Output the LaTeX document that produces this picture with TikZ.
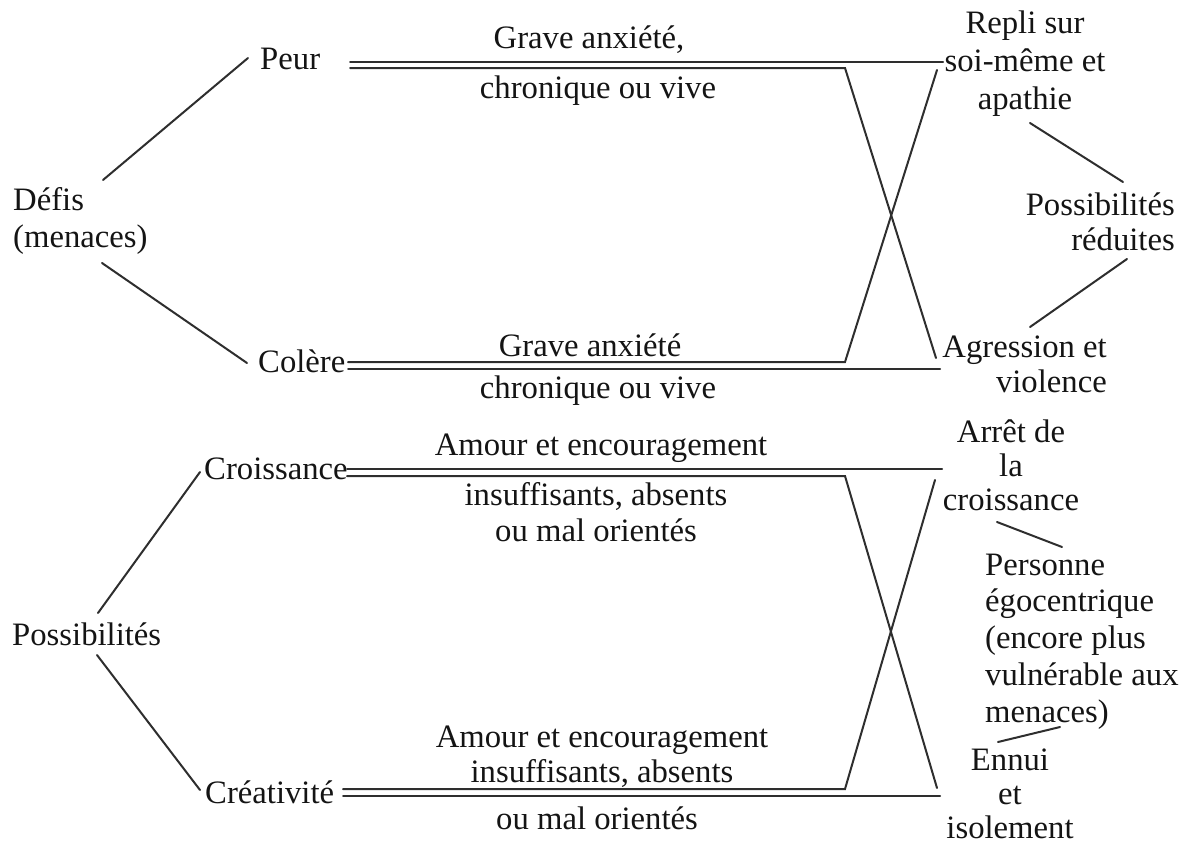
\documentclass[tikz,border=0pt]{standalone}
\usepackage{fontspec}
\setmainfont{Liberation Serif}
\newcommand{\fs}[1]{\fontsize{32.7}{#1}\selectfont}
\begin{document}
\begin{tikzpicture}[x=1pt,y=-1pt,
  lbl/.style={inner sep=0pt, font=\fs{36}, text=black!92},
  ln/.style={line width=2pt, draw=black!82, line cap=round, line join=miter}]
\useasboundingbox (0,0) rectangle (1183,844);
% ---------- left labels (anchor = baseline of last line)
\node[lbl, anchor=base west, align=left, font=\fs{37}] (defis) at (13,247) {Défis\\(menaces)};
\node[lbl, anchor=base west] (peur) at (260,69) {Peur};
\node[lbl, anchor=base west] (colere) at (258,372) {Colère};
\node[lbl, anchor=base west] (possib) at (12,645) {Possibilités};
\node[lbl, anchor=base west] (croiss) at (204,479) {Croissance};
\node[lbl, anchor=base west] (creat) at (205,803) {Créativité};
% ---------- middle labels
\node[lbl, anchor=base] (grave1) at (589,48) {Grave anxiété,};
\node[lbl, anchor=base] (chron1) at (598,98) {chronique ou vive};
\node[lbl, anchor=base] (grave2) at (590,356) {Grave anxiété};
\node[lbl, anchor=base] (chron2) at (598,398) {chronique ou vive};
\node[lbl, anchor=base] (amour1) at (601,455) {Amour et encouragement};
\node[lbl, anchor=base, align=center] (insuf1) at (596,541) {insuffisants, absents\\ou mal orientés};
\node[lbl, anchor=base, align=center, font=\fs{35}] (amour2) at (602,782) {Amour et encouragement\\insuffisants, absents};
\node[lbl, anchor=base] (mal2) at (597,829) {ou mal orientés};
% ---------- right labels
\node[lbl, anchor=base, align=center, font=\fs{38}] (repli) at (1025,109) {Repli sur\\soi-même et\\apathie};
\node[lbl, anchor=base east, align=right, font=\fs{35}] (reduites) at (1175,250) {Possibilités\\réduites};
\node[lbl, anchor=base east, align=right, font=\fs{35}] (aggr) at (1107,392) {Agression et\\violence};
\node[lbl, anchor=base, align=center, font=\fs{34}] (arret) at (1011,510) {Arrêt de\\la\\croissance};
\node[lbl, anchor=base west, align=left, font=\fs{36.7}] (perso) at (985,722) {Personne\\égocentrique\\(encore plus\\vulnérable aux\\menaces)};
\node[lbl, anchor=base, align=center, font=\fs{34}] (ennui) at (1010,838) {Ennui\\et\\isolement};
% ---------- connector points
\coordinate (d1) at (103,180); \coordinate (d1e) at (248,58);
\coordinate (d2) at (102,263); \coordinate (d2e) at (247,363);
\coordinate (p1) at (98,613);  \coordinate (p1e) at (200,472);
\coordinate (p2) at (97,655);  \coordinate (p2e) at (200,790);
% Peur row
\coordinate (pa) at (350,62);  \coordinate (pae) at (943,62);
\coordinate (pb) at (350,68);  \coordinate (pbk) at (845,68); \coordinate (pbe) at (936,358);
% Colere row
\coordinate (ca) at (348,362); \coordinate (cak) at (845,362); \coordinate (cae) at (937,70);
\coordinate (cb) at (348,369); \coordinate (cbe) at (940,369);
% Croissance row
\coordinate (ra) at (347,469); \coordinate (rae) at (942,469);
\coordinate (rb) at (347,476); \coordinate (rbk) at (845,476); \coordinate (rbe) at (937,788);
% Creativite row
\coordinate (ta) at (343,789); \coordinate (tak) at (845,789); \coordinate (tae) at (935,480);
\coordinate (tb) at (343,796); \coordinate (tbe) at (940,796);
% right small links
\coordinate (r1) at (1030,123); \coordinate (r1e) at (1123,182);
\coordinate (r2) at (1127,259); \coordinate (r2e) at (1030,327);
\coordinate (r3) at (997,522);  \coordinate (r3e) at (1062,547);
\coordinate (r4) at (998,742);  \coordinate (r4e) at (1060,727);
% ---------- connectors
\draw[ln] (d1) -- (d1e);
\draw[ln] (d2) -- (d2e);
\draw[ln] (p1) -- (p1e);
\draw[ln] (p2) -- (p2e);
\draw[ln] (pa) -- (pae);
\draw[ln] (pb) -- (pbk) -- (pbe);
\draw[ln] (ca) -- (cak) -- (cae);
\draw[ln] (cb) -- (cbe);
\draw[ln] (ra) -- (rae);
\draw[ln] (rb) -- (rbk) -- (rbe);
\draw[ln] (ta) -- (tak) -- (tae);
\draw[ln] (tb) -- (tbe);
\draw[ln] (r1) -- (r1e);
\draw[ln] (r2) -- (r2e);
\draw[ln] (r3) -- (r3e);
\draw[ln] (r4) -- (r4e);
\end{tikzpicture}
\end{document}
